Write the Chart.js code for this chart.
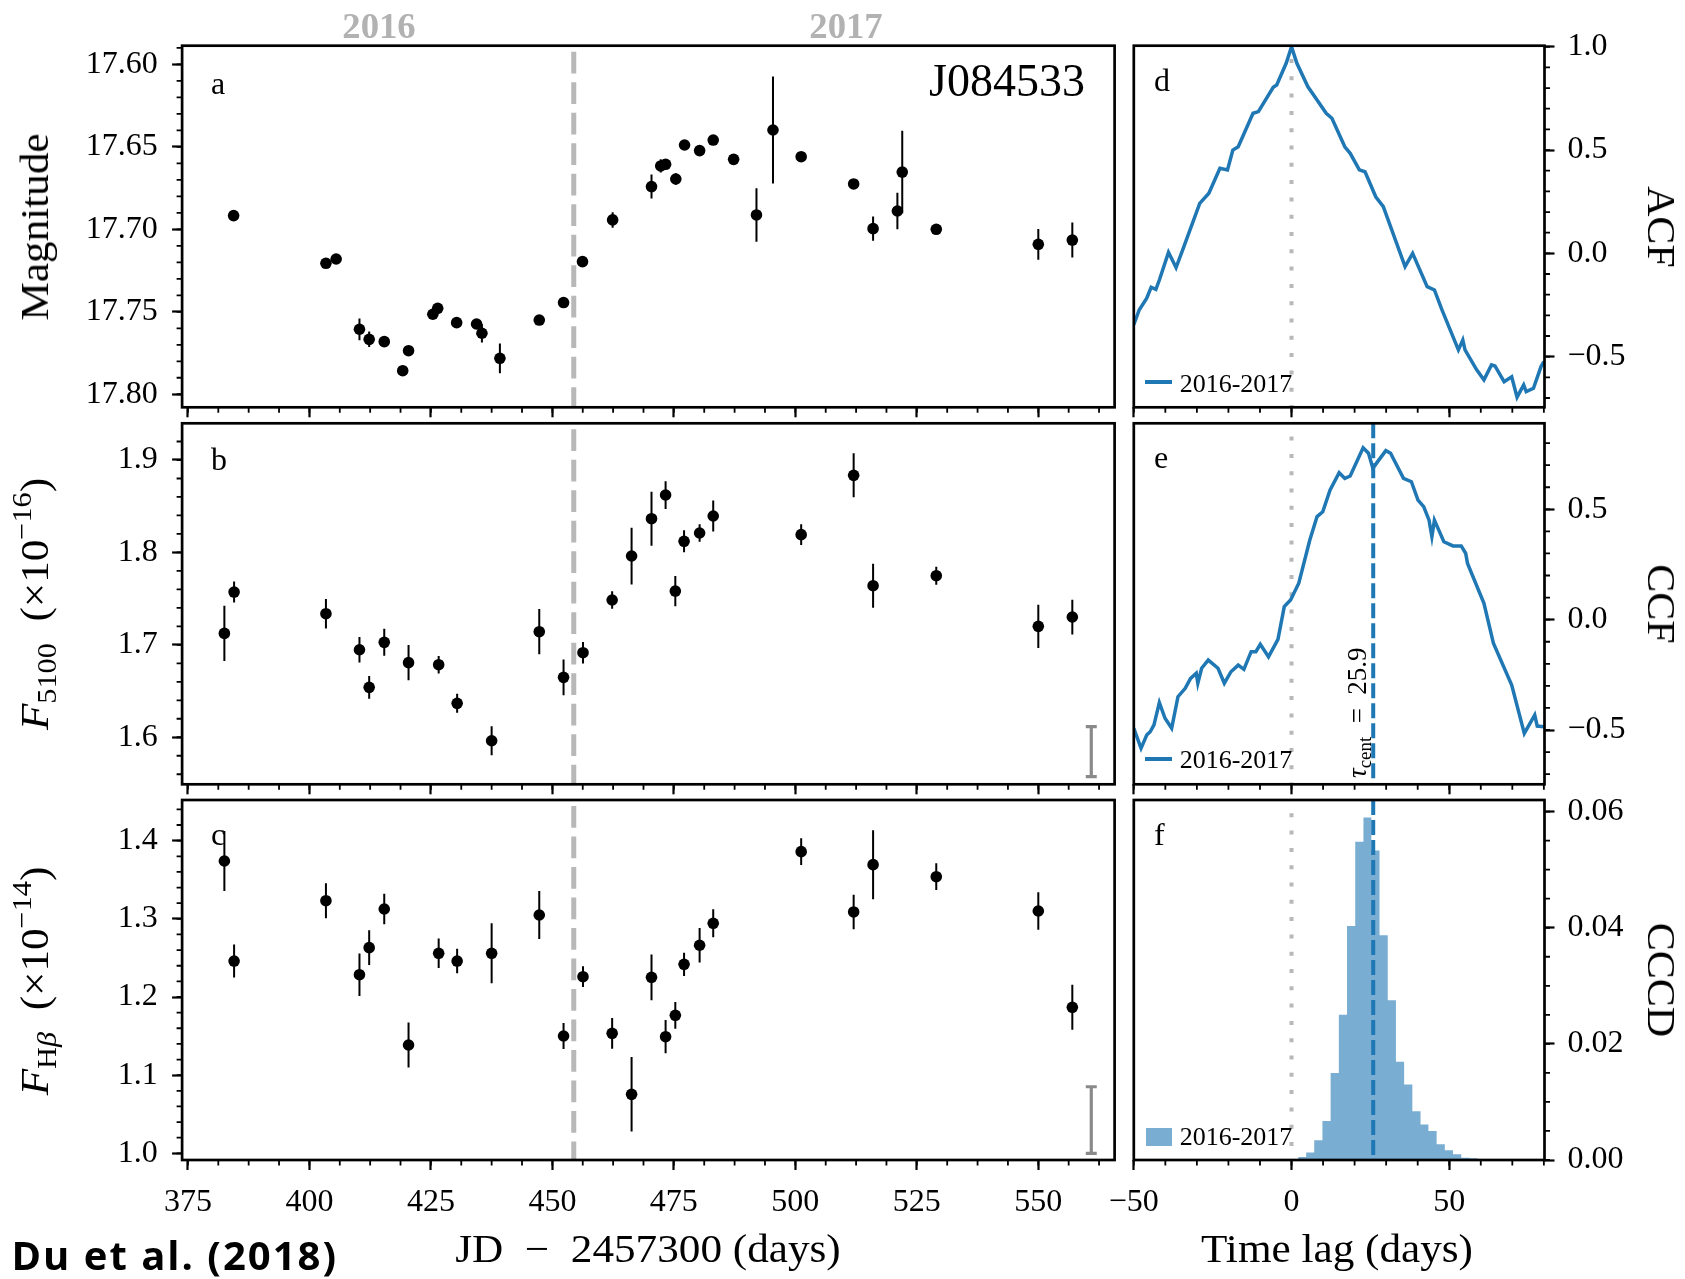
<!DOCTYPE html>
<html lang="en">
<head>
<meta charset="utf-8">
<title>J084533 light curves and lag analysis</title>
<script src="https://cdn.jsdelivr.net/npm/chart.js@4.4.1/dist/chart.umd.min.js"></script>
<style>
  html, body { margin: 0; padding: 0; background: #fff; }
  #fig { position: relative; width: 1685px; height: 1279px; overflow: hidden; background: #fff; }
  #fig canvas { position: absolute; }
  .lbl { position: absolute; font-family: "Liberation Serif", "Times New Roman", serif; color: #000; white-space: nowrap; line-height: 1; }
  .lbl sub, .lbl sup { font-size: 70%; line-height: 0; }
  .lbl sub { vertical-align: -0.28em; }
  .lbl sup { vertical-align: 0.6em; }
  .year { font-weight: bold; font-size: 35px; color: #b2b2b2; transform: translateX(-50%) scaleX(1.05); }
  .letter { font-size: 32px; }
  .ytitle { font-size: 40px; }
  .xtitle { font-size: 40px; transform: translateX(-50%) scaleX(1.08); }
  .legtext { font-size: 26px; }
  .swatch { position: absolute; }
  .credit { position: absolute; font-family: "Open Sans", "Noto Sans", sans-serif; font-weight: bold; font-size: 40px; line-height: 1; letter-spacing: 2px; color: #000; white-space: nowrap; }
</style>
</head>
<body>
<div id="fig">
  <canvas id="panelA"></canvas>
  <canvas id="panelB"></canvas>
  <canvas id="panelC"></canvas>
  <canvas id="panelD"></canvas>
  <canvas id="panelE"></canvas>
  <canvas id="panelF"></canvas>

  <div class="lbl year" style="left:378.8px; top:8.5px;">2016</div>
  <div class="lbl year" style="left:845.7px; top:8.5px;">2017</div>
  <div class="lbl" style="left:1085px; top:58.2px; font-size:46px; transform:translateX(-100%);">J084533</div>

  <div class="lbl letter" style="left:211px; top:66.5px;">a</div>
  <div class="lbl letter" style="left:211px; top:443.2px;">b</div>
  <div class="lbl letter" style="left:211px; top:818.2px;">c</div>
  <div class="lbl letter" style="left:1154px; top:64.2px;">d</div>
  <div class="lbl letter" style="left:1154px; top:440.5px;">e</div>
  <div class="lbl letter" style="left:1154px; top:818.2px;">f</div>

  <div class="lbl ytitle" style="left:34.5px; top:226.5px; transform:translate(-50%,-50%) rotate(-90deg) scaleX(1.08);">Magnitude</div>
  <div class="lbl ytitle" style="left:34.5px; top:604px; transform:translate(-50%,-50%) rotate(-90deg) scaleX(1.08);"><i>F</i><sub>5100</sub>&ensp;(×10<sup>−16</sup>)</div>
  <div class="lbl ytitle" style="left:34.5px; top:981px; transform:translate(-50%,-50%) rotate(-90deg) scaleX(1.08);"><i>F</i><sub>H<i>β</i></sub>&ensp;(×10<sup>−14</sup>)</div>

  <div class="lbl ytitle" style="left:1661px; top:226.5px; transform:translate(-50%,-50%) rotate(90deg) scaleX(1.05);">ACF</div>
  <div class="lbl ytitle" style="left:1661px; top:603.8px; transform:translate(-50%,-50%) rotate(90deg) scaleX(1.05);">CCF</div>
  <div class="lbl ytitle" style="left:1661px; top:980px; transform:translate(-50%,-50%) rotate(90deg) scaleX(1.05);">CCCD</div>

  <div class="lbl xtitle" style="left:648px; top:1228.5px;">JD&ensp;−&ensp;2457300 (days)</div>
  <div class="lbl xtitle" style="left:1337px; top:1228.5px;">Time lag (days)</div>

  <div class="lbl" style="left:1344.1px; top:778.3px; font-size:27px; transform-origin:0 0; transform:rotate(-90deg);"><i>τ</i><sub>cent</sub>&ensp;=&ensp;25.9</div>

  <div class="swatch" style="left:1144.8px; top:380.4px; width:27.5px; height:3.8px; background:#1f77b4;"></div>
  <div class="lbl legtext" style="left:1179.7px; top:370.5px;">2016-2017</div>
  <div class="swatch" style="left:1144.8px; top:757.4px; width:27.5px; height:3.8px; background:#1f77b4;"></div>
  <div class="lbl legtext" style="left:1179.7px; top:746.5px;">2016-2017</div>
  <div class="swatch" style="left:1145.6px; top:1127.7px; width:26px; height:18px; background:rgb(121,173,210);"></div>
  <div class="lbl legtext" style="left:1179.7px; top:1123.5px;">2016-2017</div>

  <div class="credit" style="left:11.5px; top:1234.5px;">Du et al. (2018)</div>
</div>

<script>
// ---------------------------------------------------------------
// Light-curve data: JD - 2457300 (days)
// ---------------------------------------------------------------
// Photometric magnitudes (panel a)
const photDays = [384.4, 403.4, 405.5, 410.3, 412.3, 415.4, 419.2, 420.4, 425.4, 426.4,
                  430.3, 434.4, 435.5, 439.2, 447.3, 452.3, 456.2, 462.4, 470.4, 472.3,
                  473.3, 475.4, 477.2, 480.3, 483.1, 487.3, 492.0, 495.4, 501.2, 512.0,
                  516.0, 521.0, 522.0, 529.0, 550.0, 557.0];
const photMag  = [17.6917, 17.7206, 17.7180, 17.7606, 17.7667, 17.7681, 17.7857, 17.7736, 17.7515, 17.7479,
                  17.7566, 17.7574, 17.7630, 17.7782, 17.7550, 17.7444, 17.7196, 17.6943, 17.6741, 17.6616,
                  17.6606, 17.6695, 17.6489, 17.6523, 17.6459, 17.6576, 17.6913, 17.6398, 17.6560, 17.6725,
                  17.6996, 17.6889, 17.6653, 17.7000, 17.7091, 17.7065];
const photErr  = [0.0020, 0.0020, 0.0020, 0.0066, 0.0047, 0.0020, 0.0030, 0.0030, 0.0020, 0.0020,
                  0.0020, 0.0030, 0.0056, 0.0090, 0.0020, 0.0020, 0.0020, 0.0047, 0.0073, 0.0040,
                  0.0020, 0.0035, 0.0020, 0.0020, 0.0030, 0.0020, 0.0162, 0.0325, 0.0020, 0.0025,
                  0.0073, 0.0110, 0.0250, 0.0020, 0.0093, 0.0106];

// Spectroscopic epochs (panels b and c)
const specDays = [382.5, 384.5, 403.4, 410.3, 412.3, 415.4, 420.4, 426.6, 430.4, 437.5,
                  447.3, 452.3, 456.3, 462.3, 466.3, 470.4, 473.3, 475.3, 477.1, 480.3,
                  483.1, 501.2, 512.0, 516.0, 529.0, 550.0, 557.0];
// 5100 A continuum flux, units of 1e-16
const f5100    = [1.7124, 1.7571, 1.7337, 1.6947, 1.6540, 1.7027, 1.6807, 1.6785, 1.6367, 1.5962,
                  1.7142, 1.6648, 1.6915, 1.7485, 1.7961, 1.8365, 1.8621, 1.7582, 1.8120, 1.8210,
                  1.8394, 1.8192, 1.8834, 1.7640, 1.7748, 1.7200, 1.7301];
const f5100Err = [0.0298, 0.0114, 0.0160, 0.0137, 0.0123, 0.0146, 0.0190, 0.0094, 0.0103, 0.0157,
                  0.0245, 0.0193, 0.0117, 0.0094, 0.0307, 0.0292, 0.0150, 0.0164, 0.0119, 0.0094,
                  0.0168, 0.0112, 0.0238, 0.0238, 0.0097, 0.0233, 0.0188];
// H-beta line flux, units of 1e-14
const hbeta    = [1.3740, 1.2460, 1.3232, 1.2285, 1.2631, 1.3126, 1.1386, 1.2559, 1.2460, 1.2559,
                  1.3049, 1.1501, 1.2260, 1.1535, 1.0755, 1.2252, 1.1492, 1.1766, 1.2418, 1.2662,
                  1.2943, 1.3859, 1.3088, 1.3693, 1.3539, 1.3100, 1.1868];
const hbetaErr = [0.0384, 0.0211, 0.0224, 0.0273, 0.0222, 0.0194, 0.0288, 0.0188, 0.0156, 0.0384,
                  0.0307, 0.0166, 0.0132, 0.0198, 0.0476, 0.0292, 0.0213, 0.0171, 0.0149, 0.0222,
                  0.0179, 0.0171, 0.0220, 0.0441, 0.0171, 0.0241, 0.0288];

// Systematic-error indicators (day, centre, half-length)
const f5100Sys = [560.9, 1.5845, 0.0271];
const hbetaSys = [560.9, 1.0426, 0.0426];

// Boundary between the 2016 and 2017 seasons
const seasonSplitDay = 454.4;

// ---------------------------------------------------------------
// Lag analysis
// ---------------------------------------------------------------
const acfLag = [-50.0, -48.3, -45.9, -44.5, -43.0, -41.9, -39.0, -36.6, -34.3, -29.1,
                -26.2, -22.7, -20.3, -18.6, -16.9, -12.2, -10.5, -5.8, -4.7, -1.7,
                0.0, 1.7, 5.2, 7.0, 11.0, 12.8, 16.9, 18.6, 21.5, 23.3,
                26.7, 29.1, 36.0, 38.4, 43.0, 45.3, 47.7, 52.9, 54.3, 55.0,
                58.7, 61.0, 63.4, 64.5, 67.4, 69.8, 71.5, 73.6, 74.4, 76.7,
                79.1, 80.0];
const acfValue = [-0.345, -0.274, -0.217, -0.164, -0.174, -0.129, 0.005, -0.069, 0.025, 0.242,
                  0.291, 0.412, 0.404, 0.500, 0.516, 0.678, 0.686, 0.804, 0.815, 0.920,
                  1.000, 0.920, 0.806, 0.766, 0.678, 0.654, 0.516, 0.484, 0.404, 0.395,
                  0.274, 0.226, -0.064, 0.000, -0.161, -0.177, -0.274, -0.467, -0.419, -0.467,
                  -0.564, -0.612, -0.540, -0.545, -0.621, -0.597, -0.696, -0.637, -0.669, -0.653,
                  -0.548, -0.524];

const ccfLag = [-50.0, -47.7, -45.9, -44.8, -43.6, -41.9, -40.1, -38.0, -36.0, -33.7,
                -32.0, -30.2, -29.7, -28.5, -26.4, -23.3, -21.3, -19.2, -16.9, -15.1,
                -12.8, -11.3, -9.9, -7.3, -4.3, -2.3, -0.3, 2.3, 5.8, 8.1,
                9.9, 12.2, 15.1, 16.9, 18.6, 22.7, 24.4, 25.8, 27.3, 29.9,
                31.4, 35.5, 38.0, 40.1, 41.9, 43.6, 44.5, 45.3, 48.3, 51.2,
                53.8, 55.2, 55.8, 61.0, 64.0, 69.8, 73.8, 75.6, 77.1, 77.9,
                80.0];
const ccfValue = [-0.492, -0.583, -0.523, -0.508, -0.477, -0.376, -0.447, -0.492, -0.349, -0.311,
                  -0.266, -0.243, -0.288, -0.220, -0.183, -0.220, -0.288, -0.236, -0.206, -0.225,
                  -0.145, -0.145, -0.112, -0.168, -0.089, 0.059, 0.089, 0.165, 0.361, 0.467,
                  0.489, 0.587, 0.666, 0.640, 0.651, 0.779, 0.754, 0.686, 0.716, 0.766,
                  0.754, 0.640, 0.625, 0.542, 0.512, 0.451, 0.376, 0.451, 0.353, 0.334,
                  0.334, 0.301, 0.255, 0.074, -0.107, -0.296, -0.515, -0.470, -0.432, -0.482,
                  -0.485];

// Cross-correlation centroid distribution: bin edges (days) and density
const cccdEdges = [2.1, 4.65, 7.2, 9.8, 12.4, 15.0, 17.6, 20.2, 22.8, 25.3,
                   27.9, 30.5, 33.1, 35.7, 38.3, 40.9, 43.4, 46.0, 48.6, 51.2,
                   53.8, 56.4, 59.0, 61.6, 64.2];
const cccdDensity = [0.0001, 0.0005, 0.0013, 0.0034, 0.0067, 0.0150, 0.0250, 0.0403, 0.0548, 0.0590,
                     0.0533, 0.0387, 0.0275, 0.0169, 0.0130, 0.0084, 0.0061, 0.0050, 0.0027, 0.0017,
                     0.0010, 0.0004, 0.0003, 0.0001];
const tauCent = 25.9;

// Tick labels
const dayTicks   = [375, 400, 425, 450, 475, 500, 525, 550];
const lagTicks   = [-50, 0, 50];
const magTicks   = [17.60, 17.65, 17.70, 17.75, 17.80];
const f5100Ticks = [1.6, 1.7, 1.8, 1.9];
const hbetaTicks = [1.0, 1.1, 1.2, 1.3, 1.4];
const acfTicks   = [-0.5, 0.0, 0.5, 1.0];
const ccfTicks   = [-0.5, 0.0, 0.5];
const cccdTicks  = [0.00, 0.02, 0.04, 0.06];

// ---------------------------------------------------------------
// Page geometry (pixels)
// ---------------------------------------------------------------
const GEOM = {
  left:  { l: 182.1, r: 1114.6, canvasX: 0, canvasW: 1125 },
  right: { l: 1133.8, r: 1544.5, canvasX: 1090, canvasW: 595 },
  rows:  [ { t: 45.7, b: 407.3 }, { t: 423.3, b: 784.3 }, { t: 800, b: 1160 } ]
};
const BLUE = '#1f77b4';
const HIST_FILL = 'rgb(121,173,210)';

Chart.defaults.font.family = '"Liberation Serif", "Times New Roman", serif';
Chart.defaults.color = '#000';

function steps(a, b, s) {
  const out = [];
  const n = Math.round((b - a) / s);
  for (let i = 0; i <= n; i++) out.push(+(a + i * s).toFixed(6));
  return out;
}
function fmt(v, d) {
  const s = Number(v).toFixed(d);
  return s.startsWith('-') ? '\u2212' + s.slice(1) : s;
}

// Frame, minor ticks, error bars and reference lines
const panelExtras = {
  id: 'panelExtras',
  beforeDatasetsDraw(chart, args, o) {
    const { ctx, chartArea: a } = chart;
    const xs = chart.scales.x, ys = chart.scales.y;
    (o.linesBelow || []).forEach(l => drawVLine(ctx, a, xs.getPixelForValue(l.x), l));
    if (o.errors) {
      const pts = chart.data.datasets[0].data;
      ctx.save();
      ctx.strokeStyle = '#000';
      ctx.lineWidth = 2;
      ctx.beginPath();
      pts.forEach((p, i) => {
        const px = xs.getPixelForValue(p.x);
        ctx.moveTo(px, ys.getPixelForValue(p.y - o.errors[i]));
        ctx.lineTo(px, ys.getPixelForValue(p.y + o.errors[i]));
      });
      ctx.stroke();
      ctx.restore();
    }
    if (o.sys) {
      const [sx, sy, se] = o.sys;
      const px = xs.getPixelForValue(sx);
      const y0 = ys.getPixelForValue(sy - se), y1 = ys.getPixelForValue(sy + se);
      ctx.save();
      ctx.strokeStyle = '#8a8a8a';
      ctx.lineWidth = 3.2;
      ctx.beginPath();
      ctx.moveTo(px, y0); ctx.lineTo(px, y1);
      ctx.moveTo(px - 5.5, y0); ctx.lineTo(px + 5.5, y0);
      ctx.moveTo(px - 5.5, y1); ctx.lineTo(px + 5.5, y1);
      ctx.stroke();
      ctx.restore();
    }
  },
  afterDatasetsDraw(chart, args, o) {
    const { ctx, chartArea: a } = chart;
    (o.linesAbove || []).forEach(l => drawVLine(ctx, a, chart.scales.x.getPixelForValue(l.x), l));
  },
  afterDraw(chart, args, o) {
    const { ctx, chartArea: a } = chart;
    const xs = chart.scales.x, ys = chart.scales.y;
    ctx.save();
    ctx.strokeStyle = '#000';
    ctx.lineWidth = 1.8;
    ctx.beginPath();
    (o.minorX || []).forEach(v => {
      if (v < xs.min || v > xs.max) return;
      const p = xs.getPixelForValue(v);
      ctx.moveTo(p, a.bottom); ctx.lineTo(p, a.bottom + 5.5);
    });
    (o.minorY || []).forEach(v => {
      if (v < ys.min || v > ys.max) return;
      const p = ys.getPixelForValue(v);
      if (o.side === 'right') { ctx.moveTo(a.right, p); ctx.lineTo(a.right + 5.5, p); }
      else { ctx.moveTo(a.left, p); ctx.lineTo(a.left - 5.5, p); }
    });
    ctx.stroke();
    ctx.lineWidth = 2.7;
    ctx.strokeRect(a.left, a.top, a.right - a.left, a.bottom - a.top);
    ctx.restore();
  }
};
function drawVLine(ctx, a, x, l) {
  ctx.save();
  ctx.strokeStyle = l.color;
  ctx.lineWidth = l.width;
  ctx.setLineDash(l.dash);
  ctx.lineDashOffset = l.offset || 0;
  ctx.beginPath();
  ctx.moveTo(x, a.top);
  ctx.lineTo(x, a.bottom);
  ctx.stroke();
  ctx.restore();
}

function axis(o) {
  const vertical = o.position === 'left' || o.position === 'right';
  return {
    type: 'linear',
    position: o.position,
    min: o.min, max: o.max,
    reverse: !!o.reverse,
    afterBuildTicks: s => { s.ticks = o.ticks.map(v => ({ value: v })); },
    afterFit: s => {
      if (vertical) s.width = o.size; else s.height = o.size;
      // edge labels are allowed to overhang; keep the plot box where it is
      s.paddingTop = 0; s.paddingBottom = 0; s.paddingLeft = 0; s.paddingRight = 0;
    },
    grid: { drawOnChartArea: false, drawTicks: true, tickLength: 10, tickWidth: 2.2, tickColor: '#000', color: '#000' },
    border: { display: false },
    ticks: {
      display: !!o.labels, autoSkip: false, maxRotation: 0, minRotation: 0,
      padding: o.pad, color: '#000', font: { size: 32 },
      callback: v => fmt(v, o.decimals)
    }
  };
}

function panel(id, colKey, rowIdx, xAxisSize, cfg) {
  const col = GEOM[colKey], row = GEOM.rows[rowIdx];
  const cv = document.getElementById(id);
  const top = Math.floor(row.t) - 20;
  const h = Math.ceil(row.b + xAxisSize) - top;
  cv.width = col.canvasW; cv.height = h;
  cv.style.left = col.canvasX + 'px'; cv.style.top = top + 'px';
  cv.style.width = col.canvasW + 'px'; cv.style.height = h + 'px';
  const xSize = top + h - row.b;
  const padding = colKey === 'left'
    ? { top: row.t - top, bottom: 0, left: 0, right: col.canvasX + col.canvasW - col.r }
    : { top: row.t - top, bottom: 0, left: col.l - col.canvasX, right: 0 };
  const ySize = colKey === 'left' ? col.l - col.canvasX : col.canvasX + col.canvasW - col.r;
  cfg.x.size = xSize;
  cfg.y.size = ySize;
  return new Chart(cv, {
    type: cfg.type,
    data: { datasets: cfg.datasets },
    options: {
      responsive: false, animation: false, devicePixelRatio: 1,
      layout: { padding, autoPadding: false },
      scales: { x: axis(cfg.x), y: axis(cfg.y) },
      plugins: { legend: { display: false }, tooltip: { enabled: false }, panelExtras: cfg.extras }
    },
    plugins: [panelExtras]
  });
}

const pts = (xs, ys) => xs.map((x, i) => ({ x, y: ys[i] }));
const dayRange = { min: 373.8, max: 565.7 };
const lagRange = { min: -50, max: 80.2 };
const dayMinor = steps(375, 562.5, 6.25);
const lagMinor = steps(-50, 80, 10);
const splitLine = { x: seasonSplitDay, color: '#b8b8b8', width: 5, dash: [21.7, 8.8], offset: 24.5 };
const zeroLine  = { x: 0, color: '#b8b8b8', width: 4, dash: [4, 13.3], offset: 4 };
const tauLine   = { x: tauCent, color: BLUE, width: 4, dash: [15, 5], offset: 0 };
const scatterSet = d => ({ data: d, pointRadius: 5.8, pointHoverRadius: 5.8, pointBackgroundColor: '#000', pointBorderWidth: 0, showLine: false });

// a: photometry
panel('panelA', 'left', 0, 13, {
  type: 'scatter',
  datasets: [scatterSet(pts(photDays, photMag))],
  x: { position: 'bottom', ...dayRange, ticks: dayTicks, decimals: 0, labels: false, pad: 13 },
  y: { position: 'left', min: 17.5887, max: 17.8079, reverse: true, ticks: magTicks, decimals: 2, labels: true, pad: 14.4 },
  extras: { errors: photErr, linesAbove: [splitLine], minorX: dayMinor, minorY: steps(17.59, 17.80, 0.01), side: 'left' }
});
// b: 5100 A continuum
panel('panelB', 'left', 1, 13, {
  type: 'scatter',
  datasets: [scatterSet(pts(specDays, f5100))],
  x: { position: 'bottom', ...dayRange, ticks: dayTicks, decimals: 0, labels: false, pad: 13 },
  y: { position: 'left', min: 1.5491, max: 1.9397, ticks: f5100Ticks, decimals: 1, labels: true, pad: 14.4 },
  extras: { errors: f5100Err, sys: f5100Sys, linesAbove: [splitLine], minorX: dayMinor, minorY: steps(1.56, 1.92, 0.02), side: 'left' }
});
// c: H-beta
panel('panelC', 'left', 2, 70, {
  type: 'scatter',
  datasets: [scatterSet(pts(specDays, hbeta))],
  x: { position: 'bottom', ...dayRange, ticks: dayTicks, decimals: 0, labels: true, pad: 13 },
  y: { position: 'left', min: 0.9915, max: 1.452, ticks: hbetaTicks, decimals: 1, labels: true, pad: 14.4 },
  extras: { errors: hbetaErr, sys: hbetaSys, linesAbove: [splitLine], minorX: dayMinor, minorY: steps(1.0, 1.44, 0.02), side: 'left' }
});
// d: auto-correlation of the continuum
panel('panelD', 'right', 0, 13, {
  type: 'line',
  datasets: [{ data: pts(acfLag, acfValue), borderColor: BLUE, borderWidth: 3.5, pointRadius: 0, tension: 0, fill: false }],
  x: { position: 'bottom', ...lagRange, ticks: lagTicks, decimals: 0, labels: false, pad: 13 },
  y: { position: 'right', min: -0.745, max: 1.005, ticks: acfTicks, decimals: 1, labels: true, pad: 13 },
  extras: { linesBelow: [zeroLine], minorX: lagMinor, minorY: steps(-0.7, 1.0, 0.1), side: 'right' }
});
// e: cross-correlation continuum vs H-beta
panel('panelE', 'right', 1, 13, {
  type: 'line',
  datasets: [{ data: pts(ccfLag, ccfValue), borderColor: BLUE, borderWidth: 3.5, pointRadius: 0, tension: 0, fill: false }],
  x: { position: 'bottom', ...lagRange, ticks: lagTicks, decimals: 0, labels: false, pad: 13 },
  y: { position: 'right', min: -0.746, max: 0.8897, ticks: ccfTicks, decimals: 1, labels: true, pad: 13 },
  extras: { linesBelow: [zeroLine], linesAbove: [tauLine], minorX: lagMinor, minorY: steps(-0.7, 0.8, 0.1), side: 'right' }
});
// f: centroid distribution
const histPoints = cccdEdges.map((e, i) => ({ x: e, y: i < cccdDensity.length ? cccdDensity[i] : 0 }));
panel('panelF', 'right', 2, 70, {
  type: 'line',
  datasets: [{ data: histPoints, stepped: 'after', borderWidth: 0, borderColor: 'rgba(0,0,0,0)', backgroundColor: HIST_FILL, fill: 'origin', pointRadius: 0 }],
  x: { position: 'bottom', ...lagRange, ticks: lagTicks, decimals: 0, labels: true, pad: 13 },
  y: { position: 'right', min: 0, max: 0.062, ticks: cccdTicks, decimals: 2, labels: true, pad: 13 },
  extras: { linesBelow: [zeroLine], linesAbove: [tauLine], minorX: lagMinor, minorY: steps(0, 0.06, 0.005), side: 'right' }
});
</script>
</body>
</html>
